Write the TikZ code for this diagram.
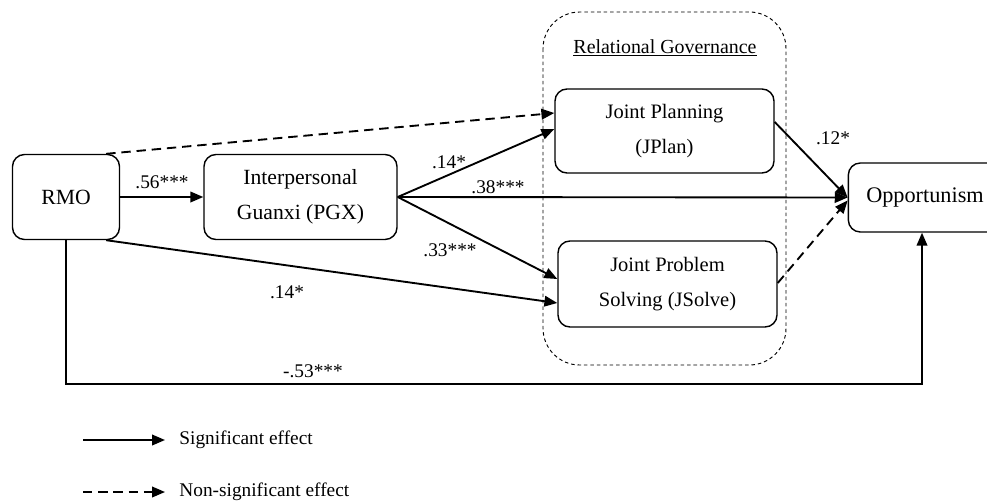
\documentclass[tikz,border=0pt]{standalone}
\usepackage{fontspec}
\setmainfont{Liberation Serif}
\usetikzlibrary{arrows.meta,calc}

\begin{document}
\begin{tikzpicture}
[x=0.03cm,y=-0.03cm,
construct/.style={draw,rounded corners=0.36cm,line width=1.2pt,align=center,
  inner sep=0pt,font=\fontsize{18.5}{30}\selectfont},
path label/.style={inner sep=1pt,font=\fontsize{16.5}{18}\selectfont},
sig/.style={line width=1.6pt,-{Triangle[length=11pt,width=9pt]}},
nonsig/.style={sig,dash pattern=on 8pt off 5pt}]
\useasboundingbox (0,0) rectangle (987,500);
% relational governance frame
\draw[dash pattern=on 3pt off 2.5pt,line width=0.8pt,rounded corners=1.1cm]
  (543,12) rectangle (786,365);
\node[font=\fontsize{17}{18}\selectfont] (rgtitle) at (665,48) {\underline{Relational Governance}};
% constructs
\node[construct,minimum width=3.21cm,minimum height=2.55cm] (rmo) at (66,197) {RMO};
\node[construct,minimum width=5.79cm,minimum height=2.55cm] (pgx) at (300.5,197)
  {Interpersonal\\Guanxi (PGX)};
\node[construct,minimum width=6.57cm,minimum height=2.52cm,font=\fontsize{17.5}{30}\selectfont]
  (jplan) at (664.5,131) {Joint Planning\\(JPlan)};
\node[construct,minimum width=6.57cm,minimum height=2.58cm,font=\fontsize{17.5}{30}\selectfont]
  (jsolve) at (667.5,284) {Joint Problem\\Solving (JSolve)};
\node[construct,minimum width=4.6cm,minimum height=2.07cm,font=\fontsize{19}{22}\selectfont]
  (opp) at (925,197.5) {Opportunism};
% paths
\draw[sig] (rmo) -- (pgx);
\draw[nonsig] ($(rmo.north east)+(-14,0)$) -- ($(jplan.west)+(0,-18)$);
\draw[sig] (pgx.east) -- ($(jplan.west)+(0,-2)$);
\draw[sig] (pgx.east) -- (opp.west);
\draw[sig] (pgx.east) -- ($(jsolve.west)+(0,-5)$);
\draw[sig] ($(rmo.south east)+(-14,0)$) -- ($(jsolve.west)+(0,19)$);
\draw[sig] ($(jplan.east)+(0,-9)$) -- (opp.west);
\draw[nonsig] ($(jsolve.east)+(0,-1)$) -- ($(opp.west)+(0,3)$);
\coordinate (bend) at (922,384);
\draw[sig] (rmo.south) |- (bend) -- (bend |- opp.south);
% coefficients
\node[path label] (l56) at (162,182) {.56***};
\node[path label] (l14a) at (449,162) {.14*};
\node[path label] (l38) at (498,187) {.38***};
\node[path label] (l33) at (450,250) {.33***};
\node[path label] (l14b) at (287,292) {.14*};
\node[path label] (l12) at (833,138) {.12*};
\node[path label] (l53) at (313,371) {-.53***};
% legend
\coordinate (sigA) at (83,440);
\coordinate (sigB) at (165,440);
\coordinate (nsA) at (83,492);
\coordinate (nsB) at (165,492);
\draw[sig] (sigA) -- (sigB);
\draw[nonsig] (nsA) -- (nsB);
\node[path label,anchor=west] (sigtext) at (178,440) {Significant effect};
\node[path label,anchor=west] (nstext) at (178,492) {Non-significant effect};
\end{tikzpicture}
\end{document}
